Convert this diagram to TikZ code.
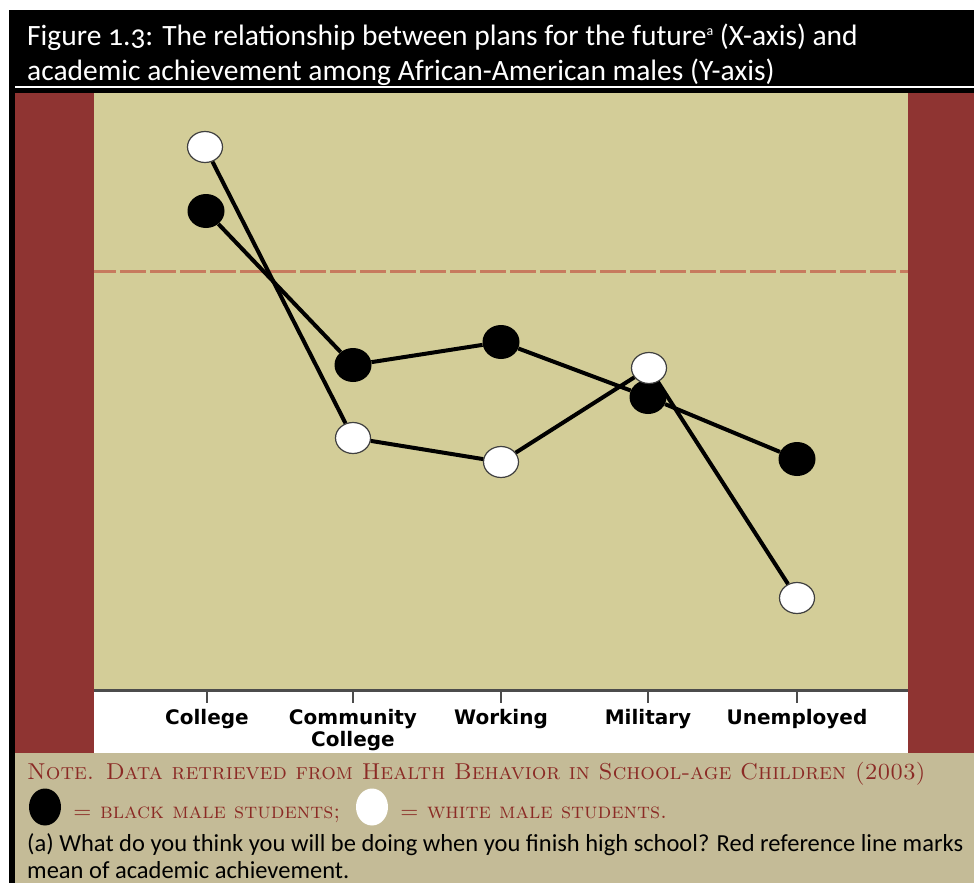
\documentclass[tikz,border=0pt]{standalone}
\usepackage{fontspec}
\newfontfamily\titlefont[Numbers=OldStyle]{Carlito}
\newfontfamily\labelfont{DejaVu Sans}
\usetikzlibrary{shapes.geometric}

\definecolor{bandred}{RGB}{143,52,50}
\definecolor{paneltan}{RGB}{211,205,152}
\definecolor{notetan}{RGB}{196,187,151}
\definecolor{refline}{RGB}{199,122,94}
\definecolor{notered}{RGB}{139,42,37}

\tikzset{
  black pt/.style={ellipse, fill=black, inner sep=0pt, minimum width=37pt, minimum height=34pt},
  white pt/.style={ellipse, draw=black!75, line width=1.2pt, fill=white, inner sep=0pt, minimum width=35pt, minimum height=31pt},
  trend/.style={line width=4pt},
  axis label/.style={font=\labelfont\bfseries\fontsize{20}{22}\selectfont, align=center, anchor=base},
  title text/.style={text=white, anchor=base west, inner sep=0pt, font=\titlefont\fontsize{29.5}{32}\selectfont},
  note text/.style={text=notered, anchor=base west, inner sep=0pt, font=\fontsize{23}{26}\selectfont},
  key text/.style={note text, font=\fontsize{22}{26}\selectfont}
}

\begin{document}
\begin{tikzpicture}[x=1pt, y=-1pt]
  \useasboundingbox (0,0) rectangle (974,883);
  \fill[white] (0,0) rectangle (974,883);

  % frame and panels
  \fill[black] (9,10) rectangle (974,93);
  \fill[black] (9,10) rectangle (15,883);
  \draw[white, line width=1.5pt] (15,87) -- (974,87);
  \fill[bandred] (15,93) rectangle (974,753);
  \fill[paneltan] (94,93) rectangle (908,689);
  \fill[white] (94,692) rectangle (908,753);
  \draw[black!70, line width=3pt] (94,690.5) -- (908,690.5);
  \fill[notetan] (15,753) rectangle (974,883);

  % title
  \node[title text] (title1) at (27,46) {Figure 1.3: The relationship between plans for the future\raisebox{10pt}{\fontsize{14}{14}\selectfont a} (X-axis) and};
  \node[title text] (title2) at (27,81) {academic achievement among African-American males (Y-axis)};

  % mean line
  \coordinate (mean west) at (94,271.5);
  \coordinate (mean east) at (908,271.5);
  \draw[refline, line width=3pt, dash pattern=on 26pt off 4pt, dash phase=4pt] (mean west) -- (mean east);

  % x axis
  \foreach \x/\y/\txt in {207/724/College, 353/746/{Community\\College}, 501/724/Working, 648/724/Military, 797/724/Unemployed}{
    \draw[black!70, line width=2pt] (\x,691) -- (\x,703);
    \node[axis label] at (\x,\y) {\txt};
  }

  % data points
  \node[black pt] (bcol) at (206,211) {};
  \node[black pt] (bcc) at (353,365) {};
  \node[black pt] (bwork) at (501,342) {};
  \node[black pt] (bmil) at (648,397) {};
  \node[black pt] (bunemp) at (797,459) {};

  \node[white pt] (wcol) at (205,147) {};
  \node[white pt] (wcc) at (353,438) {};
  \node[white pt] (wwork) at (501,462) {};
  \node[white pt] (wmil) at (649,368) {};
  \node[white pt] (wunemp) at (797,598) {};

  \draw[trend] (bcol) -- (bcc) -- (bwork) -- (bmil) -- (bunemp);
  \draw[trend] (wcol) -- (wcc) -- (wwork) -- (wmil) -- (wunemp);

  % note
  \node[note text] (note1) at (27,779) {\textsc{Note. Data retrieved from Health Behavior in School-age Children (2003)}};
  \node[ellipse, fill=black, inner sep=0pt, minimum width=32pt, minimum height=37pt] (kblack) at (45,807) {};
  \node[key text] (kbtxt) at (73,818) {\textsc{= black male students;}};
  \node[ellipse, fill=white, inner sep=0pt, minimum width=32pt, minimum height=37pt] (kwhite) at (372,807) {};
  \node[key text] (kwtxt) at (400,818) {\textsc{= white male students.}};
  \node[note text, text=black, font=\titlefont\fontsize{24.5}{27}\selectfont] (q1) at (27,851) {(a) What do you think you will be doing when you finish high school? Red reference line marks};
  \node[note text, text=black, font=\titlefont\fontsize{24.5}{27}\selectfont] (q2) at (27,878) {mean of academic achievement.};
\end{tikzpicture}
\end{document}
